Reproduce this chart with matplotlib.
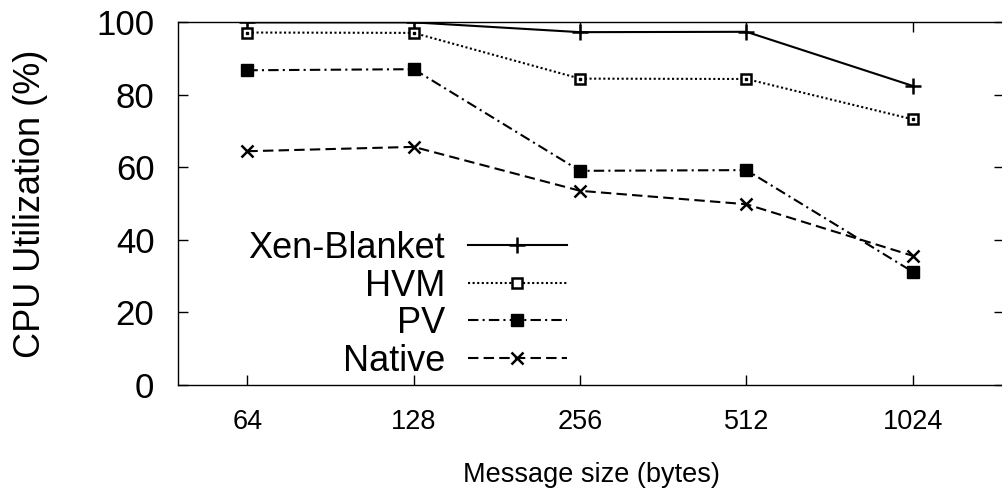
import matplotlib
matplotlib.use('Agg')
import matplotlib.pyplot as plt

plt.rcParams['font.family'] = ['Liberation Sans', 'DejaVu Sans']

# 消息大小与各方案 CPU 利用率 (%)
sizes = ['64', '128', '256', '512', '1024']
xen_blanket = [99.9, 99.9, 97.2, 97.3, 82.4]
hvm = [97.1, 97.0, 84.4, 84.3, 73.2]
pv = [86.7, 87.0, 59.0, 59.2, 31.2]
native = [64.4, 65.6, 53.5, 49.8, 35.6]

xpos = list(range(1, len(sizes) + 1))

fig = plt.figure(figsize=(10.03, 4.99), dpi=100)
ax = fig.add_axes([178 / 1003, 1 - 385 / 499, 826 / 1003, 363 / 499])

lw = 1.5
ax.plot(xpos, xen_blanket, color='black', lw=lw, ls='-', marker='+',
        ms=12, mew=1.8, label='Xen-Blanket')
ax.plot(xpos, hvm, color='black', lw=lw, ls=(0, (1, 1.2)), marker='s',
        ms=7.5, mfc='white', mew=1.8, label='HVM')
ax.plot(xpos, hvm, ls='none', marker='s', ms=1.5, color='black')
ax.plot(xpos, pv, color='black', lw=lw, ls=(0, (5, 2, 1, 2)), marker='s',
        ms=8, mfc='black', mew=1, label='PV')
ax.plot(xpos, native, color='black', lw=lw, ls=(0, (5, 2.5)), marker='x',
        ms=8.5, mew=1.8, label='Native')

ax.set_xlim(0.583, 5.549)
ax.set_ylim(0, 100)
ax.set_yticks(range(0, 101, 20))
ax.set_xticks(xpos)
ax.set_xticklabels(sizes, fontsize=19.5)
ax.tick_params(axis='y', labelsize=25, pad=17)
ax.tick_params(axis='x', pad=17.5)
ax.tick_params(direction='in', length=7, width=1, top=True, right=True,
               color='black')
for sp in ax.spines.values():
    sp.set_linewidth(1)

ax.set_ylabel('CPU Utilization (%)', fontsize=26, labelpad=35)
ax.set_xlabel('Message size (bytes)', fontsize=19.5, labelpad=19)

ax.legend(loc='upper right', bbox_to_anchor=(567 / 1003, 1 - 231 / 499),
          bbox_transform=fig.transFigure, frameon=False, markerfirst=False,
          numpoints=1, fontsize=26, handlelength=2.75, handletextpad=0.62,
          labelspacing=0.07, borderpad=0, borderaxespad=0)

fig.savefig('out.png', dpi=100)
